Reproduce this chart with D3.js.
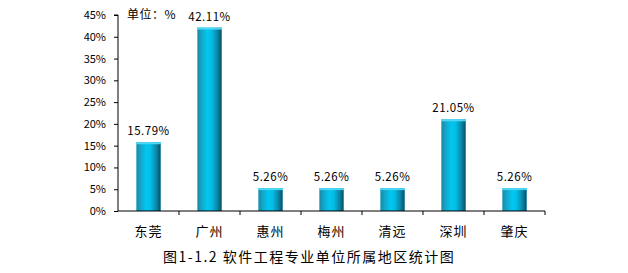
<!DOCTYPE html>
<html><head><meta charset="utf-8">
<script src="https://cdn.jsdelivr.net/npm/d3@7"></script>
<style>body{margin:0;background:#fff}</style>
</head><body>
<svg id="c" width="628" height="273"></svg>
<script>
const categories = ["东莞","广州","惠州","梅州","清远","深圳","肇庆"];
const values = [15.79, 42.11, 5.26, 5.26, 5.26, 21.05, 5.26];
const valueLabels = ["15.79%","42.11%","5.26%","5.26%","5.26%","21.05%","5.26%"];
const yTicks = [0,5,10,15,20,25,30,35,40,45];
const unitText = "单位：%";
const title = "图1-1.2 软件工程专业单位所属地区统计图";

const svg = d3.select("#c");
const font = "'Noto Sans CJK SC', 'DejaVu Sans', sans-serif";
const x0 = 118, x1 = 545, yTop = 15, yBot = 211;
const x = d3.scaleBand().domain(categories).range([x0, x1]).paddingInner(0).paddingOuter(0);
const y = d3.scaleLinear().domain([0,45]).range([yBot, yTop]);

const defs = svg.append("defs");
const g = defs.append("linearGradient").attr("id","bg").attr("x1","0").attr("x2","1").attr("y1","0").attr("y2","0");
[["0%","#7fcbe0"],["6%","#1a8fae"],["20%","#12a8cc"],["42%","#00c8f0"],["58%","#05bde6"],["82%","#0b84a6"],["94%","#0a5d75"],["100%","#5aa5bd"]]
  .forEach(([o,c])=>g.append("stop").attr("offset",o).attr("stop-color",c));

const bw = 25;
svg.append("g").selectAll("rect").data(values).join("rect")
  .attr("x",(d,i)=>x(categories[i]) + x.bandwidth()/2 - bw/2)
  .attr("y",d=>y(d)).attr("width",bw).attr("height",d=>yBot-y(d))
  .attr("fill","url(#bg)");
svg.append("g").selectAll("rect").data(values).join("rect")
  .attr("x",(d,i)=>x(categories[i]) + x.bandwidth()/2 - bw/2)
  .attr("y",d=>y(d)).attr("width",bw).attr("height",2)
  .attr("fill","#4fd6f5");

// y axis
const ya = d3.axisLeft(y).tickValues(yTicks).tickFormat(d=>d+"%").tickSize(4).tickPadding(8);
const yg = svg.append("g").attr("transform",`translate(${x0},0)`).call(ya);
yg.select(".domain").attr("stroke","#000").attr("d",`M-4,${yTop}H0V${yBot}`);
yg.selectAll("text").attr("font-family",font).attr("font-size",11).attr("fill","#000");
yg.selectAll("line").attr("stroke","#000");

// x axis
const xa = d3.axisBottom(x).tickSize(0).tickPadding(16);
const xg = svg.append("g").attr("transform",`translate(0,${yBot})`).call(xa);
xg.select(".domain").attr("stroke","#000").attr("d",`M${x0},0H${x1}`);
xg.selectAll("text").attr("font-family",font).attr("font-size",13).attr("letter-spacing",1).attr("fill","#000");
svg.append("g").selectAll("line").data(categories).join("line")
  .attr("x1",d=>x(d)+x.bandwidth()).attr("x2",d=>x(d)+x.bandwidth())
  .attr("y1",yBot).attr("y2",yBot+4).attr("stroke","#000");

// value labels
svg.append("g").selectAll("text").data(values).join("text")
  .attr("x",(d,i)=>x(categories[i]) + x.bandwidth()/2)
  .attr("y",d=>y(d)-7)
  .attr("text-anchor","middle").attr("font-family",font).attr("font-size",11.5).attr("letter-spacing",0.5)
  .text((d,i)=>valueLabels[i]);

svg.append("text").attr("x",127).attr("y",19).attr("font-family",font).attr("font-size",12).attr("letter-spacing",0.5).text(unitText);
svg.append("text").attr("x",163).attr("y",262).attr("font-family",font).attr("font-size",14).attr("letter-spacing",1.5).text(title);
</script>
</body></html>
